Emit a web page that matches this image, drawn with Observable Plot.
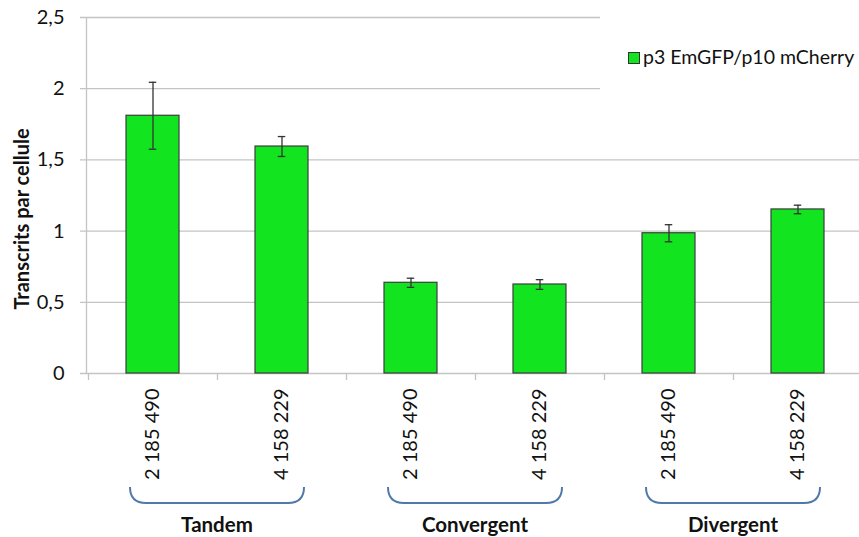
<!DOCTYPE html>
<html>
<head>
<meta charset="utf-8">
<script src="https://cdn.jsdelivr.net/npm/d3@7"></script>
<script src="https://cdn.jsdelivr.net/npm/@observablehq/plot@0.6"></script>
<style>
  html, body { margin: 0; padding: 0; background: #fff; }
  #wrap { position: relative; width: 859px; height: 537px; font-family: Lato, "Open Sans", sans-serif; }
  #legend { position: absolute; left: 600px; top: 0; width: 259px; height: 100px; background: #fff; }
  #legend .sw { position: absolute; left: 28px; top: 52px; width: 10px; height: 10px; border: 1px solid #333; }
  #legend .lbl { position: absolute; left: 43px; top: 45px; font-size: 19.5px; color: #111; white-space: nowrap; }
</style>
</head>
<body>
<div id="wrap"></div>
<script>
const groups = ["Tandem", "Convergent", "Divergent"];
const strains = ["2 185 490", "4 158 229"];
const values = [1.81, 1.594, 0.637, 0.625, 0.985, 1.152];
const errors = [0.235, 0.07, 0.032, 0.034, 0.06, 0.03];
const yTicks = [0, 0.5, 1, 1.5, 2, 2.5];
const seriesName = "p3 EmGFP/p10 mCherry";
const yLabel = "Transcrits par cellule";
const barColor = "#12e41f";
const braceColor = "#4f79a8";

const rows = groups.flatMap((g, gi) => strains.map((s, si) => ({
  key: g + "|" + s, group: g, strain: s,
  value: values[gi * 2 + si], err: errors[gi * 2 + si]
})));
const keys = rows.map(d => d.key);
const W = 859, H = 537, ML = 86, MT = 17, MB = 164;
const bw = (863 - ML) / keys.length;
const fmt = d => String(d).replace(".", ",");

const custom = (index, scales, values, dims) => {
  const {x, y} = scales;
  const g = d3.create("svg:g");
  // y axis line
  g.append("line").attr("x1", ML + 0.5).attr("x2", ML + 0.5)
    .attr("y1", y(yTicks[yTicks.length - 1])).attr("y2", y(0))
    .attr("stroke", "#c4c4c4").attr("stroke-width", 1.3);
  // boundary ticks on x axis
  keys.forEach(k => {
    g.append("line").attr("x1", x(k) + 0.5).attr("x2", x(k) + 0.5)
      .attr("y1", y(0)).attr("y2", y(0) + 7)
      .attr("stroke", "#c4c4c4").attr("stroke-width", 1.3);
  });
  // braces under each group
  groups.forEach((grp, gi) => {
    const k0 = keys[gi * 2], k1 = keys[gi * 2 + 1];
    const x0 = x(k0) + 42, x1 = x(k1) + 87;
    const yt = y(0) + 114, yb = y(0) + 130, r = 16;
    g.append("path")
      .attr("d", `M${x0},${yt} Q${x0},${yb} ${x0 + r},${yb} L${x1 - r},${yb} Q${x1},${yb} ${x1},${yt}`)
      .attr("fill", "none").attr("stroke", braceColor).attr("stroke-width", 2);
    g.append("text")
      .attr("x", x(k1)).attr("y", y(0) + 159)
      .attr("text-anchor", "middle")
      .attr("font-size", 20.5).attr("font-weight", "bold").attr("fill", "#111")
      .text(grp);
  });
  // y axis title
  g.append("text")
    .attr("transform", `translate(29,219) rotate(-90)`)
    .attr("text-anchor", "middle")
    .attr("font-size", 20).attr("font-weight", "bold").attr("fill", "#111")
    .text(yLabel);
  return g.node();
};

const chart = Plot.plot({
  width: W, height: H,
  marginLeft: ML, marginRight: 0, marginTop: MT, marginBottom: MB,
  style: {fontFamily: "Lato, 'Open Sans', sans-serif", background: "#fff", overflow: "visible"},
  x: {domain: keys, range: [ML, 863], padding: 0, axis: null},
  y: {domain: [0, 2.5], axis: null},
  marks: [
    Plot.ruleY(yTicks, {y: d => d, stroke: "#c4c4c4", strokeWidth: 1.3, strokeOpacity: 1, insetLeft: -6}),
    Plot.text(yTicks, {y: d => d, text: d => fmt(d), frameAnchor: "left", textAnchor: "end", dx: -22, fontSize: 20, fill: "#111"}),
    Plot.barY(rows, {x: "key", y: "value", fill: barColor, stroke: "#3c3c3c", strokeWidth: 1.2, insetLeft: 38, insetRight: 38}),
    Plot.ruleX(rows, {x: "key", y1: d => d.value - d.err, y2: d => d.value + d.err, stroke: "#333", strokeWidth: 1.3}),
    Plot.tickY(rows, {x: "key", y: d => d.value - d.err, stroke: "#333", strokeWidth: 1.3, insetLeft: bw / 2 - 4, insetRight: bw / 2 - 4}),
    Plot.tickY(rows, {x: "key", y: d => d.value + d.err, stroke: "#333", strokeWidth: 1.3, insetLeft: bw / 2 - 4, insetRight: bw / 2 - 4}),
    Plot.text(rows, {x: "key", y: 0, text: "strain", rotate: -90, textAnchor: "end", dy: 15, fontSize: 20, fill: "#111"}),
    custom
  ]
});

const wrap = document.getElementById("wrap");
wrap.appendChild(chart);
const leg = document.createElement("div");
leg.id = "legend";
leg.innerHTML = `<div class="sw" style="background:${barColor}"></div><div class="lbl">${seriesName}</div>`;
wrap.appendChild(leg);
</script>
</body>
</html>
